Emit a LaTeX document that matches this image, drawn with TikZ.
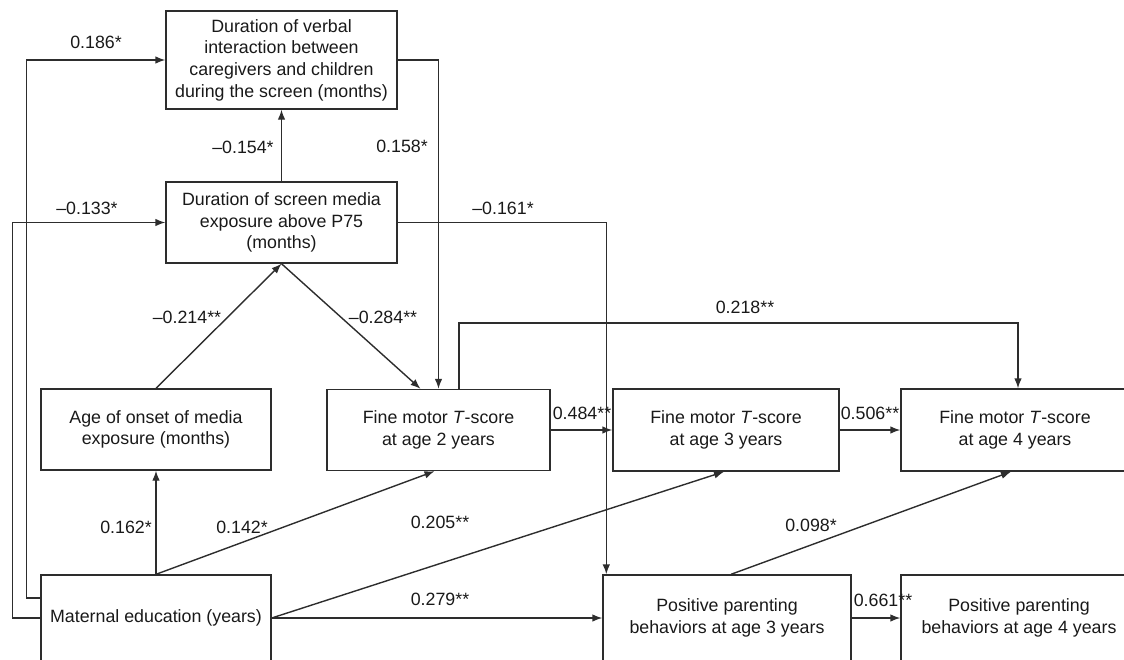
\documentclass[tikz,border=0pt]{standalone}
\usepackage{fontspec}
\setmainfont{Liberation Sans}
\usetikzlibrary{arrows.meta,positioning}
\definecolor{ink}{RGB}{45,45,45}

\begin{document}
\begin{tikzpicture}[x=0.5pt,y=-0.5pt,
    box/.style={draw=ink,line width=0.7pt,align=center,inner sep=2pt,text=black!90,
      font=\fontsize{8.9}{10.8}\selectfont},
    lbl/.style={text=black!90,inner sep=1pt,font=\fontsize{8.9}{10.8}\selectfont},
    conn/.style={draw=ink,line width=0.7pt,-{Latex[length=5pt,width=3.8pt]}}]
  \useasboundingbox (0,0) rectangle (1124,659);
  \clip (0,0) rectangle (1124,659);
  % boxes
  \node[box,minimum width=115.5pt,minimum height=49pt] (vb) at (281.5,60) {Duration of verbal\\interaction between\\caregivers and children\\during the screen (months)};
  \node[box,minimum width=115.5pt,minimum height=40.5pt] (sc) at (281.5,222.5) {Duration of screen media\\exposure above P75\\(months)};
  \node[box,minimum width=115pt,minimum height=40.5pt] (age) at (156,429.5) {Age of onset of media\\exposure (months)};
  \node[box,minimum width=111.5pt,minimum height=40.5pt] (fm2) at (438.5,430) {Fine motor \textit{T}-score\\at age 2 years};
  \node[box,minimum width=113pt,minimum height=41pt] (fm3) at (726,430) {Fine motor \textit{T}-score\\at age 3 years};
  \node[box,minimum width=114pt,minimum height=41pt] (fm4) at (1015,430) {Fine motor \textit{T}-score\\at age 4 years};
  \node[box,minimum width=115pt,minimum height=43pt] (mat) at (156,618) {Maternal education (years)};
  \node[box,minimum width=124pt,minimum height=43pt] (pos3) at (727,618) {Positive parenting\\behaviors at age 3 years};
  \node[box,minimum width=118pt,minimum height=43pt] (pos4) at (1019,618) {Positive parenting\\behaviors at age 4 years};
  % paths
  \draw[conn] ([yshift=10pt]mat.west) -- ++(-14,0) |- (vb.west);
  \draw[conn] (mat.west) -- ++(-28,0) |- (sc.west);
  \draw[conn] (sc.north) -- (vb.south);
  \draw[conn] (vb.east) -| (fm2.north);
  \draw[conn] (sc.east) -| ([xshift=2pt]pos3.north west);
  \draw[conn] (age.north) -- (sc.south);
  \draw[conn] (sc.south) -- ([xshift=-9pt]fm2.north);
  \draw[conn] ([xshift=10.25pt]fm2.north) -- ++(0,-66) -| ([xshift=1.5pt]fm4.north);
  \draw[conn] (mat.north) -- (age.south);
  \draw[conn] (mat.north) -- ([xshift=-2pt]fm2.south);
  \draw[conn] (mat.east) -- ([xshift=-1pt]fm3.south);
  \draw[conn] (mat.east) -- (pos3.west);
  \draw[conn] (fm2.east) -- (fm3.west);
  \draw[conn] (fm3.east) -- (fm4.west);
  \draw[conn] ([xshift=2pt]pos3.north) -- ([xshift=-2pt]fm4.south);
  \draw[conn] (pos3.east) -- (pos4.west);
  % coefficients
  \node[lbl] (l186) at (96,42) {0.186*};
  \node[lbl] (l133) at (87,208) {–0.133*};
  \node[lbl] (l154) at (243,147) {–0.154*};
  \node[lbl] (l158) at (402,146) {0.158*};
  \node[lbl] (l161) at (503,208) {–0.161*};
  \node[lbl] (l214) at (187,317) {–0.214**};
  \node[lbl] (l284) at (383,317) {–0.284**};
  \node[lbl] (l218) at (745,307) {0.218**};
  \node[lbl] (l484) at (582,413) {0.484**};
  \node[lbl] (l506) at (870,413) {0.506**};
  \node[lbl] (l162) at (126,527) {0.162*};
  \node[lbl] (l142) at (242,527) {0.142*};
  \node[lbl] (l205) at (440,522) {0.205**};
  \node[lbl] (l098) at (811,525) {0.098*};
  \node[lbl] (l279) at (440,599) {0.279**};
  \node[lbl] (l661) at (883,600) {0.661**};
\end{tikzpicture}
\end{document}
